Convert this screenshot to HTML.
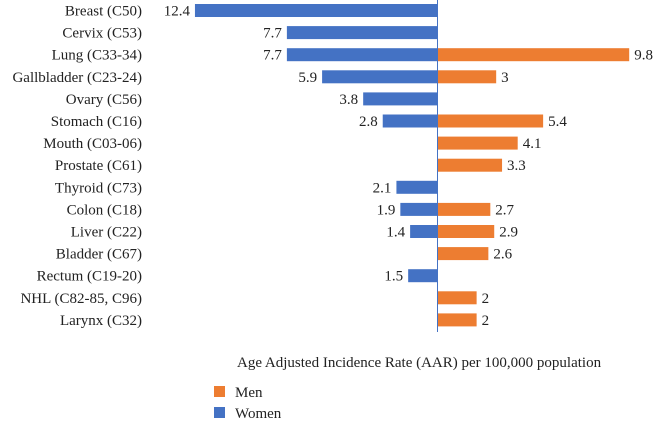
<!DOCTYPE html>
<html><head><meta charset="utf-8"><style>
body{margin:0;background:#fff}
svg{display:block;font-family:"Liberation Serif",serif;font-size:15px;fill:#222}
</style></head><body>
<svg id="c" width="655" height="422"></svg>
<script>
const categories=["Breast (C50)","Cervix (C53)","Lung (C33-34)","Gallbladder (C23-24)","Ovary (C56)","Stomach (C16)","Mouth (C03-06)","Prostate (C61)","Thyroid (C73)","Colon (C18)","Liver (C22)","Bladder (C67)","Rectum (C19-20)","NHL (C82-85, C96)","Larynx (C32)"];
const women=[12.4,7.7,7.7,5.9,3.8,2.8,null,null,2.1,1.9,1.4,null,1.5,null,null];
const men=[null,null,9.8,3,null,5.4,4.1,3.3,null,2.7,2.9,2.6,null,2,2];
const NS="http://www.w3.org/2000/svg";
const svg=document.getElementById('c');
const x0=437.5,k=19.56;
const xs=v=>v*k;
const ys=i=>10.5+i*22.1;
function mk(t,a){const e=document.createElementNS(NS,t);for(const p in a)e.setAttribute(p,a[p]);svg.appendChild(e);return e;}
categories.forEach((c,i)=>{
  const t=mk('text',{x:142,y:ys(i)+5,'text-anchor':'end'});t.textContent=c;
  
  
  if(women[i]!=null){
    const w=xs(women[i]);
    const r=mk('rect',{x:x0-w,y:ys(i)-6.5,width:w,height:13,fill:'#4472C4'});
    
    
    const l=mk('text',{x:x0-w-5,y:ys(i)+5,'text-anchor':'end'});l.textContent=women[i];
    
    
  }
  if(men[i]!=null){
    const w=xs(men[i]);
    const r=mk('rect',{x:x0,y:ys(i)-6.5,width:w,height:13,fill:'#ED7D31'});
    
    
    const l=mk('text',{x:x0+w+5,y:ys(i)+5});l.textContent=men[i];
    
    
  }
});
const ax=mk('line',{x1:x0,y1:0,x2:x0,y2:332,stroke:'#4472C4','stroke-width':1});


const tt=mk('text',{x:237,y:367});tt.textContent="Age Adjusted Incidence Rate (AAR) per 100,000 population";


[["Men","#ED7D31",392],["Women","#4472C4",413]].forEach(([n,c,y])=>{
  const r=mk('rect',{x:214,y:y-6,width:11,height:11,fill:c});
  
  
  const t=mk('text',{x:235,y:y+5});t.textContent=n;
  
  
});
</script>
</body></html>
